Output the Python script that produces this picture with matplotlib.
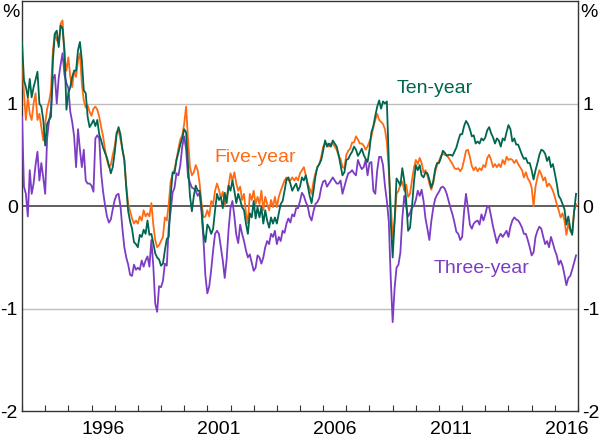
import numpy as np
import matplotlib
matplotlib.use("Agg")
import matplotlib.pyplot as plt
from matplotlib.ticker import FixedLocator, NullFormatter

plt.rcParams['font.family'] = ['Liberation Sans', 'DejaVu Sans']

# --- Data: monthly spreads, Jan 1993 - Dec 2016 ---
START_YEAR = 1993

ten_year = [
    1.60, 1.23, 1.16, 1.06, 1.24, 1.06, 1.16, 1.23, 1.31, 1.00, 0.97, 0.84,   # 1993
    0.59, 0.80, 0.84, 0.87, 1.42, 1.68, 1.71, 1.55, 1.76, 1.73, 1.52, 0.94,   # 1994
    1.10, 1.16, 1.26, 1.32, 1.32, 1.52, 1.60, 1.42, 1.13, 1.10, 0.87, 0.77,   # 1995
    0.80, 0.84, 0.78, 0.84, 0.70, 0.64, 0.57, 0.52, 0.47, 0.40, 0.32, 0.38,   # 1996
    0.52, 0.70, 0.77, 0.70, 0.55, 0.45, 0.18, -0.05, -0.15, -0.22, -0.35, -0.37,  # 1997
    -0.40, -0.28, -0.30, -0.23, -0.27, -0.14, -0.28, -0.27, -0.36, -0.46, -0.50, -0.52,  # 1998
    -0.58, -0.56, -0.43, -0.32, -0.30, 0.10, 0.33, 0.32, 0.45, 0.52, 0.60, 0.66,  # 1999
    0.75, 0.72, 0.40, 0.10, -0.05, 0.10, 0.20, 0.15, 0.15, -0.02, -0.27, -0.35,  # 2000
    -0.18, -0.21, -0.27, -0.22, -0.04, 0.12, 0.06, 0.09, -0.02, 0.13, 0.03, 0.20,  # 2001
    0.15, 0.25, 0.15, 0.03, 0.12, 0.06, -0.01, -0.04, -0.17, -0.27, -0.07, -0.11,  # 2002
    0.05, -0.12, -0.01, -0.11, -0.01, -0.17, -0.04, -0.14, -0.21, -0.11, -0.17, -0.11,  # 2003
    -0.17, -0.07, 0.02, 0.05, 0.15, 0.26, 0.28, 0.22, 0.15, 0.19, 0.22, 0.15,  # 2004
    0.19, 0.28, 0.25, 0.30, 0.20, 0.10, 0.03, 0.15, 0.29, 0.38, 0.41, 0.45,   # 2005
    0.54, 0.64, 0.58, 0.61, 0.58, 0.64, 0.61, 0.58, 0.50, 0.40, 0.30, 0.33,   # 2006
    0.45, 0.46, 0.50, 0.53, 0.58, 0.55, 0.49, 0.52, 0.56, 0.50, 0.46, 0.43,   # 2007
    0.55, 0.72, 0.78, 0.88, 0.97, 1.03, 0.95, 1.02, 1.00, 1.02, 0.45, -0.15,  # 2008
    -0.50, -0.15, 0.27, 0.24, 0.20, 0.37, 0.25, 0.06, -0.24, -0.21, -0.01, 0.23,  # 2009
    0.40, 0.35, 0.40, 0.30, 0.28, 0.33, 0.32, 0.26, 0.18, 0.24, 0.36, 0.42,   # 2010
    0.42, 0.47, 0.54, 0.52, 0.49, 0.50, 0.50, 0.49, 0.53, 0.57, 0.64, 0.70,   # 2011
    0.70, 0.78, 0.83, 0.80, 0.75, 0.68, 0.69, 0.61, 0.63, 0.61, 0.66, 0.64,   # 2012
    0.67, 0.74, 0.77, 0.71, 0.67, 0.61, 0.66, 0.64, 0.58, 0.66, 0.64, 0.72,   # 2013
    0.79, 0.75, 0.63, 0.66, 0.60, 0.60, 0.55, 0.50, 0.46, 0.47, 0.42, 0.42,   # 2014
    0.35, 0.26, 0.35, 0.42, 0.50, 0.55, 0.54, 0.51, 0.44, 0.48, 0.38, 0.41,   # 2015
    0.32, 0.22, 0.10, 0.07, 0.02, -0.03, -0.18, -0.10, -0.22, -0.28, -0.05, 0.12,  # 2016
]

five_year = [
    1.50, 1.10, 0.84, 1.06, 0.90, 0.84, 1.00, 1.10, 0.84, 0.90, 0.77, 0.64,   # 1993
    0.80, 0.95, 1.02, 1.13, 1.52, 1.68, 1.62, 1.58, 1.78, 1.81, 1.45, 1.32,   # 1994
    1.45, 1.26, 1.16, 1.32, 1.26, 1.42, 1.49, 1.19, 1.03, 0.96, 0.98, 0.92,   # 1995
    0.88, 0.95, 0.97, 0.94, 0.87, 0.77, 0.68, 0.55, 0.45, 0.38, 0.40, 0.50,   # 1996
    0.58, 0.72, 0.74, 0.65, 0.56, 0.45, 0.20, 0.02, -0.05, -0.12, -0.17, -0.14,  # 1997
    -0.17, -0.10, -0.14, -0.04, -0.10, -0.07, -0.10, 0.03, -0.18, -0.33, -0.40, -0.38,  # 1998
    -0.34, -0.30, -0.11, -0.14, 0.02, 0.24, 0.31, 0.36, 0.45, 0.56, 0.65, 0.69,  # 1999
    0.80, 0.97, 0.65, 0.38, 0.30, 0.33, 0.40, 0.35, 0.22, 0.03, -0.11, -0.10,  # 2000
    -0.04, -0.10, 0.05, 0.02, 0.15, 0.22, 0.16, 0.08, 0.14, 0.01, 0.08, 0.20,  # 2001
    0.32, 0.25, 0.33, 0.22, 0.15, 0.19, 0.06, 0.12, -0.07, -0.17, 0.12, 0.06,  # 2002
    0.15, 0.02, 0.09, 0.02, 0.15, -0.04, 0.09, 0.02, -0.04, 0.06, -0.01, 0.09,  # 2003
    -0.01, 0.09, 0.15, 0.20, 0.25, 0.28, 0.25, 0.25, 0.28, 0.25, 0.28, 0.25,  # 2004
    0.32, 0.35, 0.38, 0.30, 0.22, 0.17, 0.12, 0.24, 0.32, 0.38, 0.41, 0.48,   # 2005
    0.58, 0.61, 0.61, 0.58, 0.61, 0.61, 0.58, 0.55, 0.49, 0.46, 0.38, 0.37,   # 2006
    0.50, 0.54, 0.56, 0.62, 0.62, 0.68, 0.65, 0.61, 0.61, 0.59, 0.55, 0.58,   # 2007
    0.63, 0.68, 0.77, 0.84, 0.90, 0.84, 0.82, 0.80, 0.75, 0.62, 0.35, 0.02,   # 2008
    -0.30, -0.15, 0.12, 0.15, 0.21, 0.24, 0.15, 0.21, 0.09, 0.12, 0.25, 0.37,  # 2009
    0.45, 0.41, 0.47, 0.42, 0.33, 0.35, 0.30, 0.22, 0.16, 0.22, 0.33, 0.40,   # 2010
    0.44, 0.49, 0.51, 0.50, 0.50, 0.47, 0.44, 0.41, 0.37, 0.36, 0.37, 0.34,   # 2011
    0.37, 0.45, 0.54, 0.55, 0.48, 0.39, 0.35, 0.38, 0.34, 0.37, 0.35, 0.40,   # 2012
    0.38, 0.47, 0.50, 0.45, 0.38, 0.41, 0.38, 0.41, 0.38, 0.45, 0.41, 0.48,   # 2013
    0.45, 0.46, 0.45, 0.42, 0.45, 0.41, 0.38, 0.35, 0.28, 0.33, 0.27, 0.24,   # 2014
    0.18, 0.00, 0.19, 0.28, 0.35, 0.31, 0.25, 0.28, 0.19, 0.22, 0.19, 0.15,   # 2015
    0.09, 0.02, -0.04, -0.11, -0.07, -0.14, -0.28, -0.17, -0.24, -0.27, -0.05, 0.02,  # 2016
]

three_year = [
    0.87, 0.19, 0.12, -0.10, 0.35, 0.12, 0.22, 0.40, 0.53, 0.25, 0.42, 0.28,  # 1993
    0.12, 0.66, 0.83, 0.94, 1.24, 1.28, 1.00, 1.25, 1.38, 1.49, 1.28, 1.20,   # 1994
    1.15, 0.92, 0.82, 0.68, 0.38, 0.75, 0.55, 0.38, 0.55, 0.25, 0.22, 0.22,   # 1995
    0.20, 0.14, 0.66, 0.69, 0.66, 0.32, 0.14, 0.01, -0.10, -0.16, -0.13, -0.03,  # 1996
    0.06, 0.11, 0.12, 0.00, -0.22, -0.40, -0.50, -0.57, -0.67, -0.68, -0.57, -0.62,  # 1997
    -0.60, -0.62, -0.53, -0.59, -0.53, -0.49, -0.59, -0.33, -0.58, -0.95, -1.03, -0.78,  # 1998
    -0.79, -0.73, -0.56, -0.58, -0.20, -0.05, 0.13, 0.18, 0.32, 0.30, 0.40, 0.58,  # 1999
    0.68, 0.55, 0.28, 0.23, 0.18, 0.17, 0.15, 0.10, 0.13, -0.06, -0.33, -0.68,  # 2000
    -0.85, -0.78, -0.62, -0.43, -0.27, -0.24, -0.27, -0.40, -0.53, -0.70, -0.52, -0.23,  # 2001
    -0.02, 0.05, -0.10, -0.28, -0.36, -0.18, -0.27, -0.34, -0.43, -0.50, -0.47, -0.55,  # 2002
    -0.63, -0.60, -0.48, -0.50, -0.56, -0.50, -0.40, -0.34, -0.37, -0.27, -0.30, -0.24,  # 2003
    -0.37, -0.30, -0.34, -0.24, -0.26, -0.17, -0.12, -0.16, -0.08, -0.10, -0.02, -0.02,  # 2004
    0.05, 0.13, 0.10, 0.04, 0.00, -0.10, -0.14, -0.05, 0.02, 0.04, 0.08, 0.18,  # 2005
    0.24, 0.25, 0.19, 0.22, 0.25, 0.28, 0.25, 0.22, 0.22, 0.25, 0.12, 0.19,   # 2006
    0.26, 0.32, 0.33, 0.35, 0.32, 0.30, 0.45, 0.40, 0.36, 0.38, 0.45, 0.30,   # 2007
    0.42, 0.43, 0.15, 0.12, 0.35, 0.48, 0.48, 0.40, 0.20, 0.05, -0.15, -0.70,  # 2008
    -1.13, -0.80, -0.60, -0.57, -0.45, -0.12, 0.10, 0.00, -0.10, -0.07, -0.01, 0.00,  # 2009
    0.06, 0.15, 0.10, 0.16, 0.05, -0.12, -0.22, -0.33, -0.15, -0.02, 0.07, 0.11,  # 2010
    0.14, 0.18, 0.19, 0.17, 0.12, 0.05, -0.02, -0.08, -0.16, -0.25, -0.27, -0.33,  # 2011
    -0.30, -0.05, 0.12, -0.02, -0.18, -0.22, -0.17, -0.15, -0.14, -0.18, -0.08, -0.14,  # 2012
    -0.08, 0.00, -0.01, -0.10, -0.20, -0.28, -0.36, -0.30, -0.27, -0.30, -0.27, -0.24,  # 2013
    -0.30, -0.20, -0.14, -0.11, -0.13, -0.14, -0.17, -0.21, -0.27, -0.27, -0.33, -0.40,  # 2014
    -0.48, -0.45, -0.30, -0.24, -0.20, -0.22, -0.30, -0.37, -0.34, -0.40, -0.30, -0.36,  # 2015
    -0.43, -0.48, -0.57, -0.53, -0.58, -0.67, -0.77, -0.70, -0.68, -0.62, -0.55, -0.48,  # 2016
]

labelled_years = [1996, 2001, 2006, 2011, 2016]
y_ticks = [-2, -1, 0, 1]
y_ticklabels = ["-2", "-1", "0", "1"]

GREEN = "#00664f"
ORANGE = "#ff6a13"
PURPLE = "#7d3cc4"
FONT_SIZE = 14

dates = START_YEAR + np.arange(len(ten_year)) / 12.0

fig = plt.figure(figsize=(6.0, 4.4), dpi=100)
ax = fig.add_axes([0.0367, 0.065, 0.9266, 0.933])

# grid lines
for yv in (-1, 1):
    ax.axhline(yv, color="#bdbdbd", lw=1.0, zorder=1)
ax.axhline(0, color="#333333", lw=1.1, zorder=2)

ax.plot(dates, three_year, color=PURPLE, lw=1.3, zorder=3)
ax.plot(dates, five_year, color=ORANGE, lw=1.3, zorder=4)
ax.plot(dates, ten_year, color=GREEN, lw=1.3, zorder=5)

ax.set_xlim(START_YEAR, 2017)
ax.set_ylim(-2, 2)

# x axis: year ticks pointing in, labels mid-year
ax.xaxis.set_major_locator(FixedLocator(np.arange(START_YEAR, 2018)))
ax.xaxis.set_major_formatter(NullFormatter())
ax.xaxis.set_minor_locator(FixedLocator([y + 0.5 for y in labelled_years]))
ax.set_xticklabels([str(y) for y in labelled_years], minor=True)
ax.tick_params(axis="x", which="major", direction="in", length=4, width=0.8,
               color="#333333")
ax.tick_params(axis="x", which="minor", length=0, pad=7, labelsize=FONT_SIZE)

# y axis labels on both sides, no tick marks
ax.set_yticks(y_ticks)
ax.set_yticklabels(y_ticklabels)
ax.tick_params(axis="y", length=0, pad=3, labelsize=FONT_SIZE,
               labelleft=True, labelright=True)

for side in ax.spines.values():
    side.set_color("#333333")
    side.set_linewidth(1.0)

ax.text(-0.004, 0.972, "%", transform=ax.transAxes, ha="right", va="center",
        fontsize=FONT_SIZE)
ax.text(1.004, 0.972, "%", transform=ax.transAxes, ha="left", va="center",
        fontsize=FONT_SIZE)

# series labels
ax.text(2010.82, 1.15, "Ten-year", color=GREEN, ha="center", va="center",
        fontsize=FONT_SIZE)
ax.text(2003.06, 0.47, "Five-year", color=ORANGE, ha="center", va="center",
        fontsize=FONT_SIZE)
ax.text(2012.85, -0.61, "Three-year", color=PURPLE, ha="center", va="center",
        fontsize=FONT_SIZE)

fig.savefig("out.png", dpi=100)
